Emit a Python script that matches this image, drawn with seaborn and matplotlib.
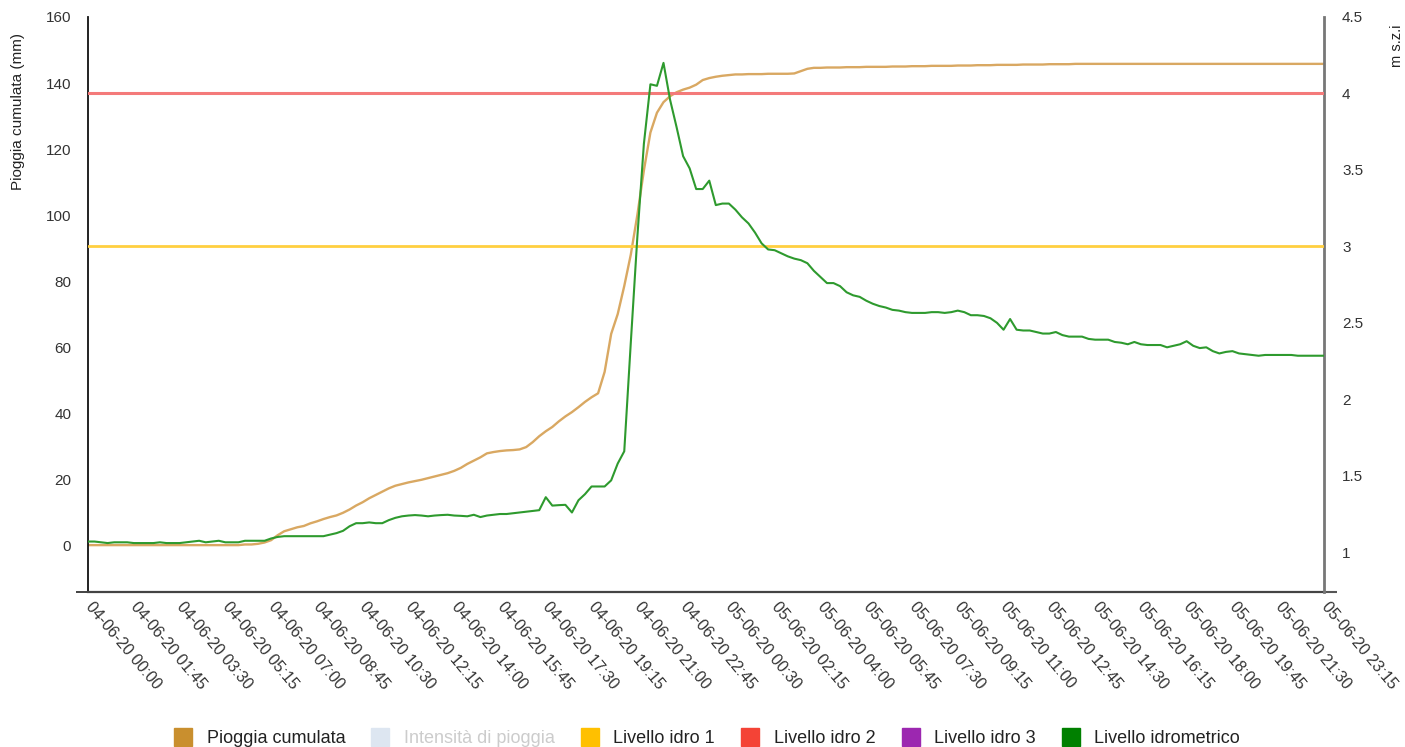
import pandas as pd
import numpy as np
import matplotlib
matplotlib.use("Agg")
import matplotlib.pyplot as plt
from matplotlib.lines import Line2D
import seaborn as sns

# 15-minute readings, 04-06-20 00:00 -> 05-06-20 23:15
START = "2020-06-04 00:00"
N_POINTS = 190

# cumulative rain (mm), left axis
pioggia_cumulata = [
    0.0, 0.0, 0.0, 0.0, 0.0, 0.0, 0.0, 0.0, 0.0, 0.0,
    0.0, 0.0, 0.0, 0.0, 0.0, 0.0, 0.0, 0.0, 0.0, 0.0,
    0.0, 0.0, 0.0, 0.0, 0.2, 0.2, 0.4, 0.8, 1.5, 3.0,
    4.2, 4.8, 5.4, 5.8, 6.6, 7.2, 7.9, 8.5, 9.0, 9.8,
    10.8, 12.0, 13.0, 14.2, 15.2, 16.2, 17.2, 18.0, 18.5, 19.0,
    19.4, 19.8, 20.3, 20.8, 21.3, 21.8, 22.5, 23.4, 24.6, 25.6,
    26.6, 27.8, 28.2, 28.5, 28.7, 28.8, 29.0, 29.7, 31.2, 33.0,
    34.5, 35.8, 37.5, 39.0, 40.3, 41.8, 43.4, 44.8, 46.0, 52.5,
    64.0, 70.0, 78.5, 88.0, 100.0, 113.5, 125.0, 131.0, 134.2, 136.0,
    137.2, 138.0, 138.6, 139.5, 140.9, 141.5, 141.9, 142.2, 142.4, 142.6,
    142.6, 142.7, 142.7, 142.7, 142.8, 142.8, 142.8, 142.8, 142.9, 143.6,
    144.3, 144.6, 144.6, 144.7, 144.7, 144.7, 144.8, 144.8, 144.8, 144.9,
    144.9, 144.9, 144.9, 145.0, 145.0, 145.0, 145.1, 145.1, 145.1, 145.2,
    145.2, 145.2, 145.2, 145.3, 145.3, 145.3, 145.4, 145.4, 145.4, 145.5,
    145.5, 145.5, 145.5, 145.6, 145.6, 145.6, 145.6, 145.7, 145.7, 145.7,
    145.7, 145.8, 145.8, 145.8, 145.8, 145.8, 145.8, 145.8, 145.8, 145.8,
    145.8, 145.8, 145.8, 145.8, 145.8, 145.8, 145.8, 145.8, 145.8, 145.8,
    145.8, 145.8, 145.8, 145.8, 145.8, 145.8, 145.8, 145.8, 145.8, 145.8,
    145.8, 145.8, 145.8, 145.8, 145.8, 145.8, 145.8, 145.8, 145.8, 145.8,
]

# water level (m s.z.i), right axis
livello_idrometrico = [
    1.07, 1.07, 1.065, 1.06, 1.065, 1.065, 1.065, 1.06, 1.06, 1.06,
    1.06, 1.065, 1.06, 1.06, 1.06, 1.065, 1.07, 1.075, 1.065, 1.07,
    1.075, 1.065, 1.065, 1.065, 1.075, 1.075, 1.075, 1.075, 1.09, 1.10,
    1.105, 1.105, 1.105, 1.105, 1.105, 1.105, 1.105, 1.115, 1.125, 1.14,
    1.17, 1.19, 1.19, 1.195, 1.19, 1.19, 1.21, 1.225, 1.235, 1.24,
    1.243, 1.24, 1.235, 1.24, 1.243, 1.245, 1.24, 1.238, 1.235, 1.245,
    1.23, 1.24, 1.245, 1.25, 1.25, 1.255, 1.26, 1.265, 1.27, 1.275,
    1.36, 1.305, 1.308, 1.31, 1.26, 1.34, 1.38, 1.43, 1.43, 1.43,
    1.47, 1.58, 1.66, 2.37, 3.06, 3.67, 4.06, 4.05, 4.20, 3.96,
    3.78, 3.59, 3.51, 3.375, 3.375, 3.43, 3.27, 3.28, 3.28, 3.24,
    3.19, 3.15, 3.09, 3.02, 2.98, 2.975, 2.955, 2.935, 2.92, 2.91,
    2.89, 2.84, 2.80, 2.76, 2.76, 2.74, 2.70, 2.68, 2.67, 2.645,
    2.625, 2.61, 2.60, 2.585, 2.58, 2.57, 2.565, 2.565, 2.565, 2.57,
    2.57, 2.565, 2.57, 2.58, 2.57, 2.55, 2.55, 2.545, 2.53, 2.50,
    2.455, 2.525, 2.455, 2.45, 2.45, 2.44, 2.43, 2.43, 2.44, 2.42,
    2.41, 2.41, 2.41, 2.395, 2.39, 2.39, 2.39, 2.375, 2.37, 2.36,
    2.375, 2.36, 2.355, 2.355, 2.355, 2.34, 2.35, 2.36, 2.38, 2.35,
    2.335, 2.34, 2.315, 2.30, 2.31, 2.315, 2.30, 2.295, 2.29, 2.285,
    2.29, 2.29, 2.29, 2.29, 2.29, 2.285, 2.285, 2.285, 2.285, 2.285,
]

# alarm thresholds (m s.z.i)
livello_idro_1 = 3.0
livello_idro_2 = 4.0

legend_labels = ["Pioggia cumulata", "Intensità di pioggia", "Livello idro 1",
                 "Livello idro 2", "Livello idro 3", "Livello idrometrico"]
legend_colors = ["#c98f2e", "#dde6f1", "#ffc000", "#f44336", "#9c27b0", "#008000"]

assert len(pioggia_cumulata) == N_POINTS and len(livello_idrometrico) == N_POINTS

times = pd.date_range(START, periods=N_POINTS, freq="15min")
df = pd.DataFrame({"time": times, "pioggia": pioggia_cumulata,
                   "livello": livello_idrometrico})


def main():
    sns.set_style("white")
    plt.rcParams["font.family"] = ["Liberation Sans", "DejaVu Sans"]
    text_col = "#333333"

    fig = plt.figure(figsize=(14.05, 7.47), dpi=100)
    ax = fig.add_axes([88 / 1405, 1 - 592 / 747, (1324 - 88) / 1405, (592 - 17) / 747])
    ax2 = ax.twinx()

    sns.lineplot(data=df, x="time", y="pioggia", ax=ax, color="#d9a862", lw=1.7)
    sns.lineplot(data=df, x="time", y="livello", ax=ax2, color="#2e9a2e", lw=1.5, zorder=4)
    ax2.axhline(livello_idro_1, color="#ffcf40", lw=2, zorder=3)
    ax2.axhline(livello_idro_2, color="#f47a7a", lw=2.2, zorder=3)

    ax.set_xlim(times[0], times[-1])
    ax.set_ylim(-14.2, 160)
    ax2.set_ylim(0.74, 4.5)

    # x ticks every 1h45
    ticks = times[::7]
    ax.set_xticks(ticks)
    ax.set_xticklabels([t.strftime("%d-%m-%y %H:%M") for t in ticks],
                       rotation=-50, ha="left", va="center", rotation_mode="anchor",
                       fontsize=11.5, color=text_col)
    ax.tick_params(axis="x", length=0, pad=9)
    ax.set_xticks([times[0], times[-1]], minor=True)
    ax.tick_params(axis="x", which="minor", length=9, width=1.2, color="#222222",
                   direction="out")

    ax.set_yticks(np.arange(0, 161, 20))
    ax.tick_params(axis="y", length=0, pad=12, labelsize=11, labelcolor=text_col)
    ax.set_yticks([-14.2, 160], minor=True)
    ax.tick_params(axis="y", which="minor", length=9, width=1.2, color="#222222")

    ax2.set_yticks([1, 1.5, 2, 2.5, 3, 3.5, 4, 4.5])
    ax2.set_yticklabels(["1", "1.5", "2", "2.5", "3", "3.5", "4", "4.5"])
    ax2.tick_params(axis="y", length=0, pad=13, labelsize=11, labelcolor=text_col)
    ax2.set_yticks([0.74, 4.5], minor=True)
    ax2.tick_params(axis="y", which="minor", length=9, width=1.5, color="#555555")

    ax.set_xlabel("")
    ax.set_ylabel("")
    ax2.set_ylabel("")

    for a in (ax, ax2):
        a.spines["top"].set_visible(False)
        a.grid(False)
    ax.spines["right"].set_visible(False)
    ax.spines["left"].set_color("#111111")
    ax.spines["left"].set_linewidth(1.3)
    ax.spines["bottom"].set_color("#444444")
    ax.spines["bottom"].set_linewidth(1.6)
    ax2.spines["left"].set_visible(False)
    ax2.spines["bottom"].set_visible(False)
    ax2.spines["right"].set_color("#777777")
    ax2.spines["right"].set_linewidth(2)

    fig.text(18 / 1405, 1 - 112 / 747, "Pioggia cumulata (mm)", rotation=90,
             ha="center", va="center", fontsize=11, color="#222222")
    fig.text(1397 / 1405, 1 - 46 / 747, "m s.z.i", rotation=90,
             ha="center", va="center", fontsize=10.5, color="#222222")

    handles = [Line2D([], [], marker="s", ls="", markersize=13, color=c)
               for c in legend_colors]
    leg = fig.legend(handles, legend_labels, loc="lower center",
                     bbox_to_anchor=(0.5, -0.022), ncol=6, frameon=False,
                     fontsize=13, handletextpad=0.3, columnspacing=0.95)
    for i, t in enumerate(leg.get_texts()):
        t.set_color("#cccccc" if i == 1 else "#222222")

    fig.savefig("out.png", dpi=100, facecolor="white")
    plt.close(fig)


if __name__ == "__main__":
    main()
